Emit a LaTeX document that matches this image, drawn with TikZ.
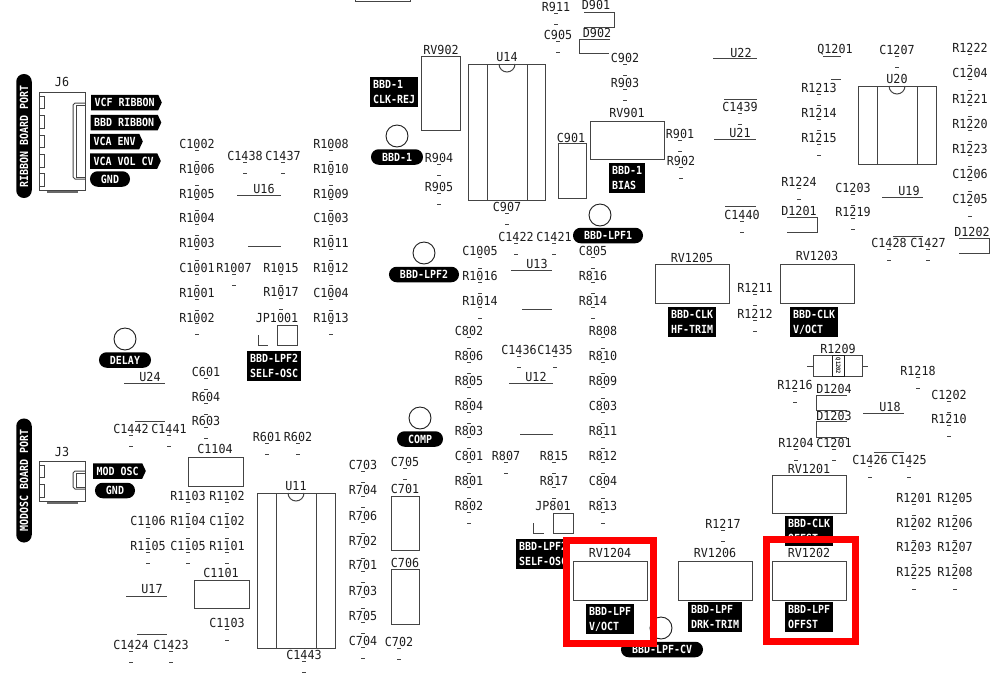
\documentclass[tikz,border=0pt]{standalone}
\usepackage{fontspec}
\newfontfamily\silkfont[FakeStretch=0.94]{DejaVu Sans Mono}
\newfontfamily\labelfont[FakeStretch=0.89]{DejaVu Sans Mono Bold}
\usetikzlibrary{positioning,shapes.symbols}
\definecolor{silk}{HTML}{1c1c1c}
\definecolor{outline}{HTML}{444444}
\tikzset{
    refdes/.style = {font=\silkfont\fontsize{12.45}{13}\selectfont, text=silk, inner sep=0pt, text height=9pt, text depth=0pt},
    padmark/.style = {outline, line width=0.8pt},
    part/.style = {draw=outline, line width=1pt},
    pill/.style = {fill=black, text=white, rounded corners=7.6pt, font=\labelfont\fontsize{11.2}{15}\selectfont, inner xsep=11pt, inner ysep=0pt, minimum height=15.5pt},
    tag/.style = {signal, signal to=east, signal pointer angle=130, fill=black, text=white, font=\labelfont\fontsize{11.2}{15}\selectfont, inner xsep=3.5pt, inner ysep=0pt, minimum height=15.5pt, anchor=west},
    trimbox/.style = {fill=black, text=white, font=\labelfont\fontsize{11.2}{15}\selectfont, align=left, inner xsep=3pt, inner ysep=0pt, minimum height=30pt, anchor=west},
    testpoint/.style = {draw=silk, line width=0.9pt, fill=white},
    highlight/.style = {draw=red, line width=7pt}
}
\begin{document}
\begin{tikzpicture}[x=1pt, y=-1pt]
    \useasboundingbox (0,0) rectangle (999,673);

    % designators with their two pad ticks
    \foreach \n/\x/\y in {
        C1002/197/144, R1006/197/168.5, R1005/197/193.5, R1004/197/218, R1003/197/243, C1001/197/268, R1001/197/293, R1002/197/317.5,
        R1007/234/268, R1015/281/268, R1017/281/292, C1438/245/156, C1437/283/156,
        R1008/331/144, R1010/331/168.5, R1009/331/193.5, C1003/331/218, R1011/331/243, R1012/331/268, C1004/331/293, R1013/331/317.5,
        C601/206/372, R604/206/397, R603/206/421, C1442/131/429, C1441/169/429, R601/267/437, R602/298/437,
        R1103/188/496, R1102/227/496, C1106/148/521, R1104/188/521, C1102/227/521, R1105/148/546, C1105/188/546, R1101/227/546,
        C1103/227/623, C1424/131/645, C1423/171/645, C1443/304/655,
        R911/556/7, C905/558/35, C902/625/58, R903/625/83, R904/439/158, R905/439/187, C907/507/207, R901/680/134, R902/681/161,
        C1422/516/237, C1421/554/237, C1005/480/251, R1016/480/276, R1014/480/301, C805/593/251, R816/593/276, R814/593/301,
        C802/469/331, R806/469/356, R805/469/381, R804/469/406, R803/469/431, C801/469/456, R801/469/481, R802/469/506,
        R808/603/331, R810/603/356, R809/603/381, C803/603/406, R811/603/431, R812/603/456, C804/603/481, R813/603/506,
        C1436/519/350, C1435/555/350, R807/506/456, R815/554/456, R817/554/481,
        C703/363/465, C705/405/462, R704/363/490, R706/363/516, R702/363/541, R701/363/565, R703/363/591, R705/363/616, C704/363/641, C702/399/642,
        C1439/740/107, C1440/742/215, C1207/897/50, R1213/819/88, R1214/819/113, R1215/819/138,
        R1222/970/48, C1204/970/73, R1221/970/99, R1220/970/124, R1223/970/149, C1206/970/174, C1205/970/199,
        R1224/799/182, C1203/853/188, R1219/853/212, C1428/889/243, C1427/928/243, R1211/755/288, R1212/755/314,
        R1216/795/385, R1218/918/371, C1202/949/395, R1210/949/419, R1204/796/443, C1201/834/443, C1426/870/460, C1425/909/460, R1217/723/524,
        R1201/914/498, R1205/955/498, R1202/914/523, R1206/955/523, R1203/914/547, R1207/955/547, R1225/914/572, R1208/955/572}{
        \node[refdes] (\n) at (\x,\y) {\n};
        \draw[padmark] (\x-2,\y+6) -- (\x+2,\y+6);
        \draw[padmark] (\x-2,\y+17) -- (\x+2,\y+17);
    }

    % designators without ticks
    \foreach \n/\x/\y in {
        J6/62/82, J3/62/452, U16/264/189, U24/150/377, U17/152/589, U11/296/486, JP1001/277/318, C1104/215/449, C1101/221/573,
        RV902/441/50, U14/507/57, D901/596/5, D902/597/33, C901/571/138, RV901/627/113, U13/537/264, U12/536/377, JP801/553/506,
        C701/405/489, C706/405/563, RV1204/610/553, U22/741/53, U21/740/133, Q1201/835/49, U20/897/79, D1201/799/211, U19/909/191,
        D1202/972/232, RV1205/692/258, RV1203/817/256, R1209/838/349, D1204/834/389, D1203/834/416, U18/890/407,
        RV1201/809/469, RV1206/715/553, RV1202/809/553}{
        \node[refdes] (\n) at (\x,\y) {\n};
    }

    % board ports
    \node[pill, rotate=90] (ribbonport) at (24,136) {RIBBON BOARD PORT};
    \node[pill, rotate=90] (modoscport) at (24,480.5) {MODOSC BOARD PORT};

    \draw[part] (39,92) rectangle (85,190);
    \foreach \t/\b in {96/108, 115/128, 135/147, 154/167, 173/186}{
        \draw[part] (39,\t) -- (44,\t) -- (44,\b) -- (39,\b);
    }
    \draw[part] (85,103) -- (75,103) -- (73,105) -- (73,177) -- (75,179) -- (85,179);
    \draw[part] (85,105) -- (76,105) -- (76,177) -- (85,177);
    \draw[outline!80, line width=1.2pt] (47,192) -- (78,192);

    \draw[part] (39,461) rectangle (85,501);
    \foreach \t/\b in {465/477, 484/497}{
        \draw[part] (39,\t) -- (44,\t) -- (44,\b) -- (39,\b);
    }
    \draw[part] (85,471) -- (75,471) -- (73,473) -- (73,487) -- (75,489) -- (85,489);
    \draw[part] (85,473) -- (76,473) -- (76,487) -- (85,487);
    \draw[outline!80, line width=1.2pt] (47,503) -- (78,503);

    \node[tag] (vcfribbon) at (91,102.5) {VCF RIBBON};
    \node[tag] (bbdribbon) at (90.5,122.5) {BBD RIBBON};
    \node[tag] (vcaenv) at (90,141.5) {VCA ENV};
    \node[tag] (vcavolcv) at (90,161) {VCA VOL CV};
    \node[pill] (gndribbon) at (110,179) {GND};
    \node[tag] (modosc) at (93,471) {MOD OSC};
    \node[pill] (gndmodosc) at (115,490.5) {GND};

    % opamps and other outlines
    \foreach \l/\r/\t/\b in {237/281/195/246, 124/165/383/421, 126/167/596/634, 511/552/270/309, 509/553/383/434, 713/757/58/99, 714/756/139/206, 882/923/197/236, 863/904/413/452}{
        \draw[part] (\l,\t) -- (\r,\t);
        \draw[part] (\l+11,\b) -- (\r,\b);
    }
    \draw[part] (823,56) -- (841,56);
    \draw[part] (831,79) -- (841,79);

    % dips
    \foreach \l/\il/\ir/\r/\t/\b in {257/276/316/335/493/648, 468/487/527/545/64/200, 858/877/917/936/86/164}{
        \draw[part] (\l,\t) rectangle (\r,\b);
        \draw[part] (\il,\t) rectangle (\ir,\b);
        \draw[part] ({(\il+\ir)/2-8},\t) arc (180:0:8);
    }

    % caps and trimmers
    \foreach \l/\r/\t/\b in {188/243/457/486, 194/249/580/608, 421/460/56/130, 558/586/143/198, 590/664/121/159, 391/419/496/550, 391/419/569/624,
        573/647/561/600, 655/729/264/303, 780/854/264/303, 772/846/475/513, 678/752/561/600, 772/846/561/600}{
        \draw[part] (\l,\t) rectangle (\r,\b);
    }
    \draw[part] (355,0) -- (355,1) -- (410,1) -- (410,0);

    % diodes
    \draw[part] (584,12) -- (614,12) -- (614,27) -- (584,27);
    \draw[part] (610,39) -- (579,39) -- (579,53) -- (609,53);
    \draw[part] (787,217) -- (817,217) -- (817,232) -- (787,232);
    \draw[part] (959,238) -- (989,238) -- (989,253) -- (959,253);
    \draw[part] (847,395) -- (816,395) -- (816,410) -- (847,410);
    \draw[part] (847,421) -- (816,421) -- (816,437) -- (847,437);

    % jumpers
    \draw[part] (277,325) rectangle (297,345);
    \draw[part] (258,335) -- (258,345) -- (268,345);
    \draw[part] (553,513) rectangle (573,533);
    \draw[part] (533,523) -- (533,533) -- (544,533);

    % the through-hole one
    \draw[part] (813,355) rectangle (862,376);
    \draw[part, draw=silk] (832,355) rectangle (844,376);
    \draw[part] (807,366) -- (813,366);
    \draw[part] (862,366) -- (868,366);
    \node[rotate=-90, font=\labelfont\fontsize{6}{6}\selectfont, text=silk, inner sep=0pt] (Q1202) at (838,366) {Q1202};

    % test points
    \draw[testpoint] (125,339) circle[radius=11];
    \draw[testpoint] (397,136) circle[radius=11];
    \draw[testpoint] (600,215) circle[radius=11];
    \draw[testpoint] (424,253) circle[radius=11];
    \draw[testpoint] (420,418) circle[radius=11];
    \draw[testpoint] (661,628) circle[radius=11];
    \node[pill] (delay) at (125,360) {DELAY};
    \node[pill] (bbdone) at (397,157) {BBD-1};
    \node[pill] (bbdlpfone) at (608,235.5) {BBD-LPF1};
    \node[pill] (bbdlpftwo) at (424,274.5) {BBD-LPF2};
    \node[pill] (comp) at (420,439) {COMP};
    \node[pill] (bbdlpfcv) at (662,649.5) {BBD-LPF-CV};

    % trim labels
    \node[trimbox] (lpftwoosc) at (247,366) {BBD-LPF2\\SELF-OSC};
    \node[trimbox] (clkrej) at (370,92) {BBD-1\\CLK-REJ};
    \node[trimbox] (bias) at (609,178) {BBD-1\\BIAS};
    \node[trimbox] (lpfoneosc) at (516,553.5) {BBD-LPF2\\SELF-OSC};
    \node[trimbox] (lpfvoct) at (586,619) {BBD-LPF\\V/OCT};
    \node[trimbox] (hftrim) at (668,322) {BBD-CLK\\HF-TRIM};
    \node[trimbox] (clkvoct) at (790,322) {BBD-CLK\\V/OCT};
    \node[trimbox] (clkoffst) at (785,530.5) {BBD-CLK\\OFFST};
    \node[trimbox] (drktrim) at (688,617) {BBD-LPF\\DRK-TRIM};
    \node[trimbox] (lpfoffst) at (785,617) {BBD-LPF\\OFFST};

    % marked trimmers
    \draw[highlight] (566,540.5) rectangle (653.5,643);
    \draw[highlight] (766.5,539.5) rectangle (855,641.5);
\end{tikzpicture}
\end{document}
